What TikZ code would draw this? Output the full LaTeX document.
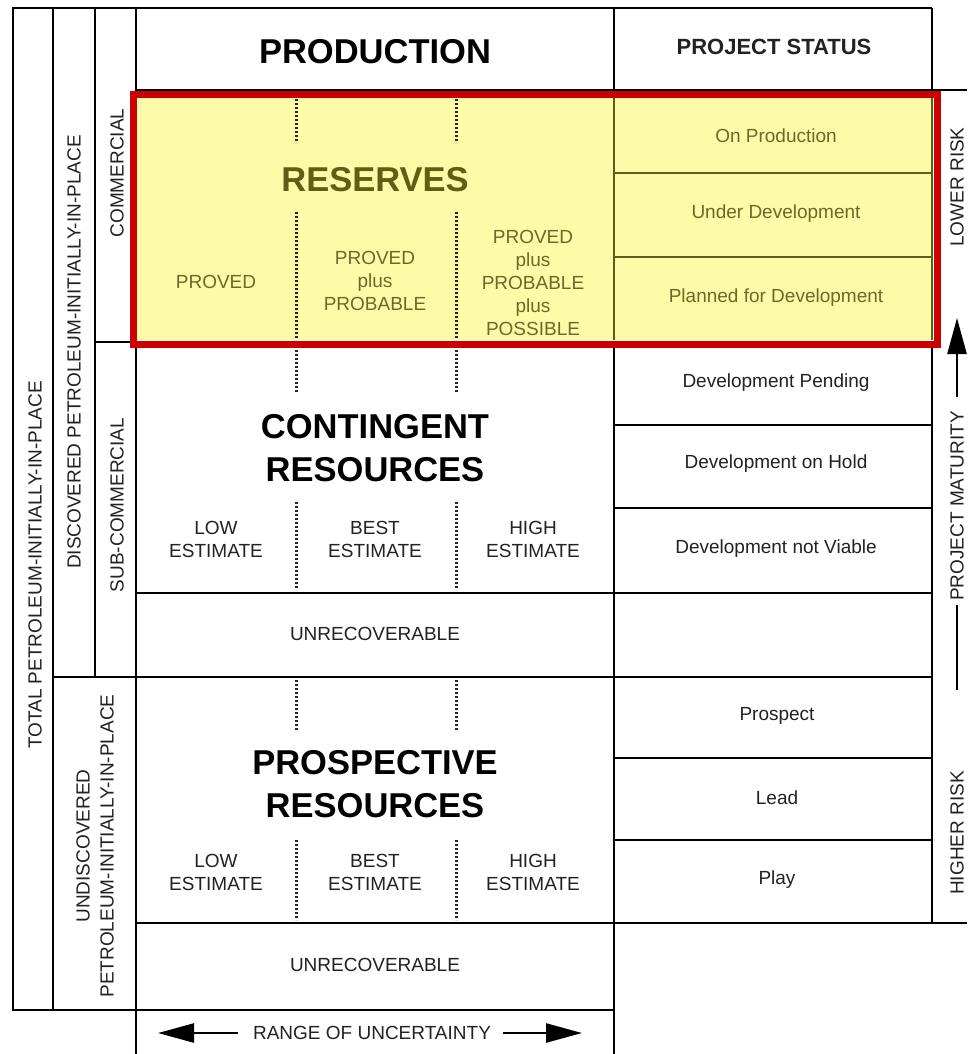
\documentclass[tikz,border=0pt]{standalone}
\usepackage{fontspec}
\setmainfont{Liberation Sans}
\usetikzlibrary{arrows.meta}
\definecolor{yel}{HTML}{FCFCA8}
\definecolor{olv}{HTML}{5E5E14}
\definecolor{olvtxt}{HTML}{6A6A28}
\definecolor{redbox}{HTML}{CC0000}
\definecolor{txt}{HTML}{222222}
\tikzset{
  grid/.style={line width=2.5pt, black},
  olvline/.style={line width=2.2pt, olv},
  dotv/.style={line width=3pt, black!85, dash pattern=on 2.2pt off 1.8pt},
  lbl/.style={font=\fontsize{19}{23}\selectfont, text=txt, align=center, inner sep=0pt},
  olbl/.style={lbl, text=olvtxt},
  big/.style={font=\bfseries\fontsize{34.5}{43}\selectfont, text=black, align=center, inner sep=0pt},
  head/.style={font=\bfseries\fontsize{22}{25}\selectfont, text=txt, align=center, inner sep=0pt},
  vlbl/.style={lbl, rotate=90},
  bigarrow/.style={line width=2.5pt, -{Triangle[length=36pt,width=19pt]}},
}
\begin{document}
\begin{tikzpicture}[x=1pt,y=-1pt]
\useasboundingbox (0,0) rectangle (967,1054);
\fill[white] (0,0) rectangle (967,1054);
% yellow reserves area
\fill[yel] (136,98) rectangle (932,340);
% black grid
\draw[grid] (13,8) rectangle (53,1010);
\draw[grid] (13,8) -- (932,8);
\draw[grid] (53,8) -- (53,1010);
\draw[grid] (95,8) -- (95,677);
\draw[grid] (136,8) -- (136,1054);
\draw[grid] (614,8) -- (614,92);
\draw[grid] (614,344) -- (614,1054);
\draw[grid] (932,8) -- (932,92);
\draw[grid] (932,344) -- (932,923);
\draw[grid] (136,90) -- (967,90);
\draw[grid] (95,342) -- (136,342);
\draw[grid] (614,425) -- (932,425);
\draw[grid] (614,508) -- (932,508);
\draw[grid] (136,593) -- (932,593);
\draw[grid] (53,677) -- (932,677);
\draw[grid] (614,758) -- (932,758);
\draw[grid] (614,840) -- (932,840);
\draw[grid] (136,923) -- (967,923);
\draw[grid] (13,1010) -- (614,1010);
% olive lines inside yellow
\draw[olvline] (614,98) -- (614,340);
\draw[olvline] (932,98) -- (932,340);
\draw[olvline] (614,173) -- (932,173);
\draw[olvline] (614,257) -- (932,257);
% dotted separators
\foreach \x in {296,456} {
  \draw[dotv] (\x,99) -- (\x,143);
  \draw[dotv] (\x,212) -- (\x,340);
  \draw[dotv] (\x,350) -- (\x,392);
  \draw[dotv] (\x,502) -- (\x,590);
  \draw[dotv] (\x,680) -- (\x,730);
  \draw[dotv] (\x,840) -- (\x,920);
}
% red frame
\draw[redbox, line width=7pt] (133,94.5) rectangle (937,344);

% headings
\node[big] (prod) at (375,52) {PRODUCTION};
\node[head] (pstat) at (774,47) {PROJECT STATUS};
\node[big, text=olv] (res) at (375,180) {RESERVES};
\node[olbl] (p1) at (216,282) {PROVED};
\node[olbl] (p2) at (375,281) {PROVED\\plus\\PROBABLE};
\node[olbl] (p3) at (533,283) {PROVED\\plus\\PROBABLE\\plus\\POSSIBLE};
\node[big] (cont) at (375,448) {CONTINGENT\\RESOURCES};
\node[lbl] (c1) at (216,539) {LOW\\ESTIMATE};
\node[lbl] (c2) at (375,539) {BEST\\ESTIMATE};
\node[lbl] (c3) at (533,539) {HIGH\\ESTIMATE};
\node[lbl] (unr1) at (375,634) {UNRECOVERABLE};
\node[big] (prosp) at (375,784) {PROSPECTIVE\\RESOURCES};
\node[lbl] (q1) at (216,872) {LOW\\ESTIMATE};
\node[lbl] (q2) at (375,872) {BEST\\ESTIMATE};
\node[lbl] (q3) at (533,872) {HIGH\\ESTIMATE};
\node[lbl] (unr2) at (375,965) {UNRECOVERABLE};
\node[lbl] (range) at (372,1033) {RANGE OF UNCERTAINTY};

% status
\node[olbl] (s1) at (776,136) {On Production};
\node[olbl] (s2) at (776,214) {Under Development};
\node[olbl] (s3) at (776,298) {Planned for Development};
\node[lbl] (s4) at (776,383) {Development Pending};
\node[lbl] (s5) at (776,464) {Development on Hold};
\node[lbl] (s6) at (776,549) {Development not Viable};
\node[lbl] (s7) at (777,716) {Prospect};
\node[lbl] (s8) at (777,798) {Lead};
\node[lbl] (s9) at (777,880) {Play};

% vertical labels
\node[vlbl] (total) at (35,565) {TOTAL PETROLEUM-INITIALLY-IN-PLACE};
\node[vlbl] (disc) at (74,352) {DISCOVERED PETROLEUM-INITIALLY-IN-PLACE};
\node[vlbl] (comm) at (117,173) {COMMERCIAL};
\node[vlbl] (subc) at (117,505) {SUB-COMMERCIAL};
\node[vlbl, font=\fontsize{19}{24}\selectfont] (undisc) at (95,846) {UNDISCOVERED\\PETROLEUM-INITIALLY-IN-PLACE};
\node[vlbl] (lrisk) at (957,187) {LOWER RISK};
\node[vlbl] (pmat) at (957,506) {PROJECT MATURITY};
\node[vlbl] (hrisk) at (957,833) {HIGHER RISK};

% arrows
\coordinate (ua) at (957,397);
\coordinate (ub) at (957,318);
\coordinate (la) at (957,605);
\coordinate (lb) at (957,690);
\draw[bigarrow] (ua) -- (ub);
\draw[line width=2.5pt] (la) -- (lb);
\coordinate (ra1) at (238,1033);
\coordinate (ra2) at (158,1033);
\coordinate (rb1) at (503,1033);
\coordinate (rb2) at (582,1033);
\draw[bigarrow] (ra1) -- (ra2);
\draw[bigarrow] (rb1) -- (rb2);
\end{tikzpicture}
\end{document}
